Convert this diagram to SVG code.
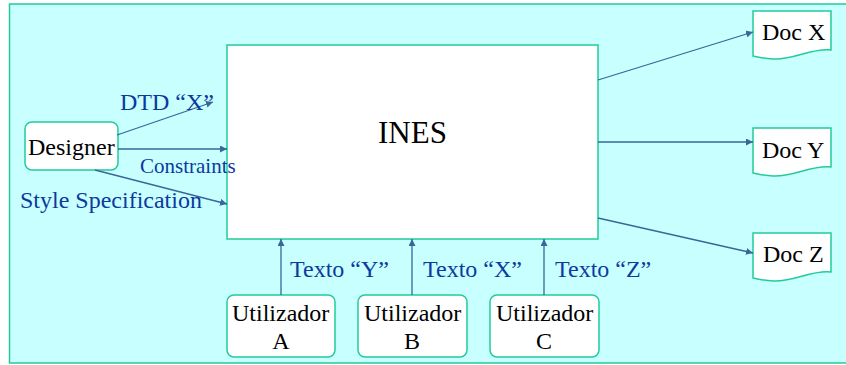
<svg xmlns="http://www.w3.org/2000/svg" width="846" height="365" viewBox="0 0 846 365">
<style>
.box{fill:#ffffff;stroke:#22cc99;stroke-width:1.5}
text{font-family:'Liberation Serif','DejaVu Serif',serif;font-size:24px}
.t{fill:#000000}
.lbl{fill:#0d3a9c}
.c{stroke:#3a6699;stroke-width:1.3;fill:none;marker-end:url(#ah)}
</style>
<defs>
<marker id="ah" viewBox="0 0 10 10" refX="10" refY="5" markerWidth="7" markerHeight="7" markerUnits="userSpaceOnUse" orient="auto">
<path d="M0,0 L10,5 L0,10 z" fill="#3a6699"/>
</marker>
</defs>
<rect x="9.5" y="4" width="845" height="359" fill="#c8ffff" stroke="#22cc99" stroke-width="1.5"/>
<g id="ines">
<rect class="box" x="227" y="45" width="371" height="194"/>
<text class="t" x="378" y="143" style="font-size:31px">INES</text>
</g>
<g id="designer">
<rect class="box" x="25" y="122" width="93" height="48" rx="7"/>
<text class="t" x="28" y="155">Designer</text>
</g>
<g id="docx">
<path class="box" d="M753,11 H831 V50 C810,48 795,60 773,59 C765,59 758,57 753,56 Z"/>
<text class="t" x="762" y="40">Doc X</text>
</g>
<g id="docy">
<path class="box" d="M753,128 H831 V167 C810,165 795,177 773,176 C765,176 758,174 753,173 Z"/>
<text class="t" x="762" y="158">Doc Y</text>
</g>
<g id="docz">
<path class="box" d="M753,233 H831 V272 C810,270 795,282 773,281 C765,281 758,279 753,278 Z"/>
<text class="t" x="763" y="262">Doc Z</text>
</g>
<g id="utilA">
<rect class="box" x="227" y="295" width="108" height="62" rx="7"/>
<text class="t" x="232" y="321">Utilizador</text>
<text class="t" x="281" y="349" text-anchor="middle">A</text>
</g>
<g id="utilB">
<rect class="box" x="358" y="295" width="109" height="62" rx="7"/>
<text class="t" x="364" y="321">Utilizador</text>
<text class="t" x="412" y="349" text-anchor="middle">B</text>
</g>
<g id="utilC">
<rect class="box" x="490" y="295" width="109" height="62" rx="7"/>
<text class="t" x="496" y="321">Utilizador</text>
<text class="t" x="544" y="349" text-anchor="middle">C</text>
</g>
<g id="connectors">
<line class="c" x1="117" y1="135" x2="213" y2="102"/>
<line class="c" x1="118" y1="149" x2="227" y2="149"/>
<line class="c" x1="95" y1="170" x2="227" y2="204"/>
<line class="c" x1="598" y1="80" x2="753" y2="32"/>
<line class="c" x1="598" y1="142" x2="753" y2="142"/>
<line class="c" x1="598" y1="218" x2="753" y2="253"/>
<line class="c" x1="281" y1="295" x2="281" y2="239"/>
<line class="c" x1="412" y1="295" x2="412" y2="239"/>
<line class="c" x1="544" y1="295" x2="544" y2="239"/>
<text class="lbl" x="120" y="110">DTD “X”</text>
<text class="lbl" x="140" y="173" style="font-size:21px">Constraints</text>
<text class="lbl" x="20" y="208">Style Specification</text>
<text class="lbl" x="290" y="277">Texto “Y”</text>
<text class="lbl" x="423" y="277">Texto “X”</text>
<text class="lbl" x="555" y="277">Texto “Z”</text>
</g>
</svg>
